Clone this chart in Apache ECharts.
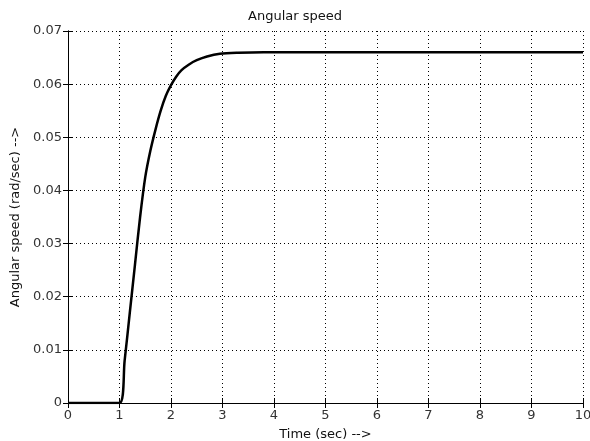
<!DOCTYPE html>
<html>
<head>
<meta charset="utf-8">
<script src="https://cdn.jsdelivr.net/npm/echarts@6/dist/echarts.min.js"></script>
<style>
  html, body { margin: 0; padding: 0; background: #fff; }
  #main { width: 590px; height: 441px; }
</style>
</head>
<body>
<div id="main"></div>
<script>
// step response
var timeSec = [0, 1, 1.1, 1.2, 1.3, 1.4, 1.5, 1.6, 1.7, 1.8, 1.9, 2.0, 2.1, 2.2, 2.35, 2.5, 2.7, 2.95, 3.3, 3.8, 10];
var speed   = [0, 0, 0.008, 0.017, 0.026, 0.035, 0.0425, 0.0475, 0.0515, 0.0550, 0.0578, 0.0598, 0.0614, 0.0626, 0.0637, 0.0645, 0.0652, 0.0657, 0.0659, 0.066, 0.066];
var yTicks = ['0', '0.01', '0.02', '0.03', '0.04', '0.05', '0.06', '0.07'];

var pts = [];
for (var i = 0; i < timeSec.length; i++) pts.push([timeSec[i], speed[i]]);

var FONT = 'DejaVu Sans';
var dotted = { show: true, lineStyle: { color: '#000', type: [1, 3], width: 1 } };

var myChart = echarts.init(document.getElementById('main'));
var option = {
    animation: false,
    backgroundColor: '#fff',
    title: {
        text: 'Angular speed',
        left: 'center',
        top: 5,
        textStyle: { fontFamily: FONT, fontSize: 13, fontWeight: 'normal', color: '#111' }
    },
    grid: { left: 68, right: 7, top: 31, bottom: 38, outerBoundsMode: 'none' },
    xAxis: [{
        type: 'value', min: 0, max: 10, interval: 1,
        name: 'Time (sec) -->', nameLocation: 'middle', nameGap: 25,
        nameTextStyle: { fontFamily: FONT, fontSize: 13, color: '#111' },
        axisLine: { lineStyle: { color: '#000', width: 1 } },
        axisTick: { inside: true, length: 5, lineStyle: { color: '#000' } },
        axisLabel: { fontFamily: FONT, fontSize: 13, color: '#333', margin: 6 },
        splitLine: dotted
    }, {
        type: 'value', min: 0, max: 10, interval: 1, position: 'top',
        axisLine: { show: true, lineStyle: { color: '#000', width: 1 } },
        axisTick: { inside: true, length: 5, lineStyle: { color: '#000' } },
        axisLabel: { show: false },
        splitLine: { show: false }
    }],
    yAxis: [{
        type: 'value', min: 0, max: 0.07, interval: 0.01,
        name: 'Angular speed (rad/sec) -->', nameLocation: 'middle', nameGap: 46,
        nameTextStyle: { fontFamily: FONT, fontSize: 13, color: '#111' },
        axisLine: { show: true, lineStyle: { color: '#000', width: 1 } },
        axisTick: { inside: true, length: 5, lineStyle: { color: '#000' } },
        axisLabel: {
            fontFamily: FONT, fontSize: 13, color: '#333', margin: 6,
            formatter: function (v) { return yTicks[Math.round(v * 100)]; }
        },
        splitLine: dotted
    }, {
        type: 'value', min: 0, max: 0.07, interval: 0.01, position: 'right',
        axisLine: { show: true, lineStyle: { color: '#000', width: 1 } },
        axisTick: { inside: true, length: 5, lineStyle: { color: '#000' } },
        axisLabel: { show: false },
        splitLine: { show: false }
    }],
    series: [{
        type: 'line',
        data: pts,
        smooth: 0.3,
        showSymbol: false,
        lineStyle: { color: '#000', width: 2.5 }
    }]
};
myChart.setOption(option);
</script>
</body>
</html>
